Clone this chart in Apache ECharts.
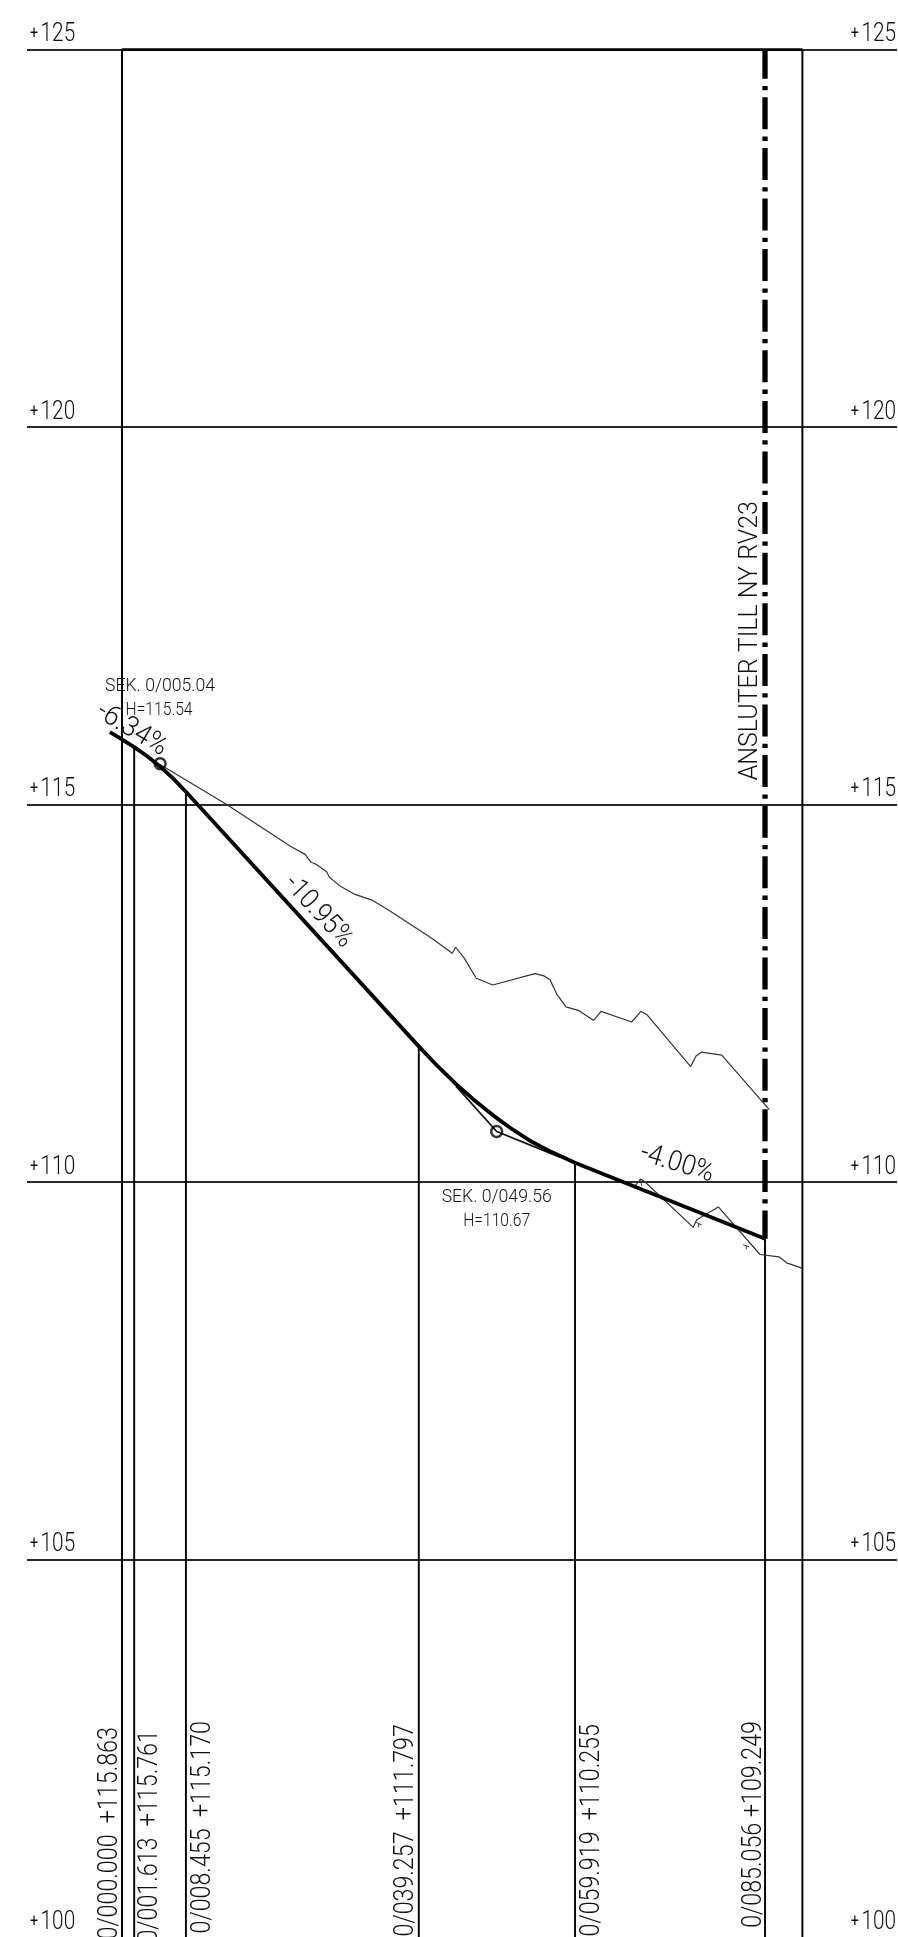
<!DOCTYPE html>
<html><head><meta charset="utf-8">
<style>html,body{margin:0;padding:0;background:#fff;overflow:hidden}#c{width:898px;height:1937px}</style>
<script src="https://cdn.jsdelivr.net/npm/echarts@6/dist/echarts.min.js"></script>
</head><body><div id="c"></div>
<script>
const stationS=[0,1.613,8.455,39.257,59.919,85.056];
const stationH=[115.863,115.761,115.17,111.797,110.255,109.249];
const stationTexts=['0/000.000  +115.863','0/001.613  +115.761','0/008.455  +115.170','0/039.257  +111.797','0/059.919  +110.255','0/085.056 +109.249'];
const stationTextS=[-1.6,3.75,10.7,37.6,62.15,83.65];
const stationTextH=[102.78,102.74,102.86,102.82,102.82,102.86];
const roadS=[-1.6,0,1.613,3.3,5.03,6.75,8.455,39.257,41.76,44.26,46.76,49.26,51.76,54.26,56.76,59.919,85.056];
const roadH=[115.96,115.863,115.761,115.643,115.505,115.347,115.17,111.797,111.534,111.29,111.07,110.87,110.69,110.53,110.4,110.255,109.249];
const groundS=[5.03,13.85,22.22,24.21,24.96,25.66,27.08,27.42,28.84,30.82,33.16,35.45,40.97,43.69,44.14,45.24,46.87,49.03,54.63,55.82,56.61,57.5,58.73,60.45,62.39,63.36,67.42,68.65,69.4,75.22,75.93,76.63,79.33,85.62];
const groundH=[115.53,115,114.45,114.34,114.24,114.21,114.11,114.04,113.92,113.81,113.73,113.59,113.23,113.03,113.11,112.97,112.7,112.61,112.76,112.73,112.68,112.49,112.32,112.27,112.14,112.26,112.12,112.26,112.22,111.53,111.67,111.72,111.68,110.96];
const lowerS=[67.86,68.61,69.18,75.57,76.02,78.88,84.39,86.9,87.92,89.9];
const lowerH=[109.95,110.04,110,109.4,109.5,109.67,109.04,109.01,108.93,108.86];
const markS=[68.78,68.52,null,75.93,76.68,null,76.28,76.28,null,82.18,82.98,null,82.58,82.58];
const markH=[109.95,110.03,null,109.47,109.43,null,109.45,109.4,null,109.17,109.14,null,109.16,109.11];
const tangentS=[44.18,49.56,57.94];
const tangentH=[111.27,110.67,110.33];
const breakS=[5.04,49.56];
const breakH=[115.54,110.67];
const noteTexts=['SEK. 0/005.04','H=115.54','-6.34%','-10.95%','-4.00%','SEK. 0/049.56','H=110.67','ANSLUTER TILL NY RV23'];
const noteS=[5.03,4.9,1.28,25.93,73.41,49.56,49.56,83.1];
const noteH=[116.56,116.25,115.99,113.58,110.24,109.8,109.48,117.17];
const yTicks=[100,105,110,115,120,125];
const yLabelS=[-12.17,102.38];
const borderS=[0,90];
const topLevel=125, bottomLevel=100;

const FONT="Roboto,'Liberation Sans',sans-serif";
const WEIGHT='300';
const noteSize=[18,18,28,28,28,18,18,26];
const noteAngle=[0,0,-31,-47,-17,0,0,90];
const noteScale=[.98,.87,.95,.9,.92,.98,.87,.96];
const TEXT='#111';

function vline(s,from,to,w,extra){
  return {type:'line',data:[[s,from],[s,to]],showSymbol:false,symbol:'none',clip:false,silent:true,
    lineStyle:Object.assign({color:'#000',width:w},extra||{}),z:3};
}
const series=[];
borderS.forEach(s=>series.push(vline(s,topLevel,bottomLevel,2)));
stationS.forEach((s,i)=>series.push(vline(s,stationH[i],bottomLevel,1.9)));
series.push({type:'line',data:borderS.map(s=>[s,topLevel]),symbol:'none',clip:false,lineStyle:{color:'#000',width:2.6},z:3});
series.push(vline(stationS[5],topLevel,stationH[5],5.3,{type:[32,7.3,4.3,7],dashOffset:2.9,cap:'butt'}));
series.push({type:'line',data:groundS.map((s,i)=>[s,groundH[i]]),symbol:'none',clip:false,lineStyle:{color:'#333',width:1.2},z:4});
series.push({type:'line',data:lowerS.map((s,i)=>[s,lowerH[i]]),symbol:'none',clip:false,lineStyle:{color:'#333',width:1.2},z:4});
series.push({type:'line',data:markS.map((s,i)=>s===null?[null,null]:[s,markH[i]]),connectNulls:false,symbol:'none',clip:false,lineStyle:{color:'#333',width:1},z:4});
series.push({type:'line',data:tangentS.map((s,i)=>[s,tangentH[i]]),symbol:'none',clip:false,lineStyle:{color:'#111',width:1.7},z:4});
series.push({type:'line',data:roadS.map((s,i)=>[s,roadH[i]]),symbol:'none',clip:false,lineStyle:{color:'#000',width:3.8,join:'round'},z:5});
series.push({type:'scatter',data:breakS.map((s,i)=>[s,breakH[i]]),symbol:'circle',symbolSize:11,clip:false,
  itemStyle:{color:'rgba(255,255,255,0)',borderColor:'#000',borderWidth:2.4},z:6});
function textItem(api,text,rot,size,sx){
  const p=api.coord([api.value(0),api.value(1)]);
  return {type:'text',x:p[0],y:p[1],rotation:rot,scaleX:sx,silent:true,
    style:{text:text,x:0,y:0,fill:TEXT,font:'normal '+WEIGHT+' '+size+'px '+FONT,align:'center',verticalAlign:'middle'}};
}
series.push({type:'custom',coordinateSystem:'cartesian2d',clip:false,z:7,silent:true,
  data:noteS.map((s,i)=>[s,noteH[i],i]),encode:{x:0,y:1},
  renderItem:(p,api)=>{const i=api.value(2);return textItem(api,noteTexts[i],noteAngle[i]*Math.PI/180,noteSize[i],noteScale[i]);}});
series.push({type:'custom',coordinateSystem:'cartesian2d',clip:false,z:7,silent:true,
  data:stationTextS.map((s,i)=>[s,stationTextH[i],i]),encode:{x:0,y:1},
  renderItem:(p,api)=>{const i=api.value(2);const el=textItem(api,stationTexts[i],Math.PI/2,28,.83);el.style.align='right';return el;}});
// elevation labels on both sides, drawn at each tick of the y axis
yLabelS.forEach((sideS,k)=>{
  series.push({type:'custom',coordinateSystem:'cartesian2d',clip:false,z:7,silent:true,
    data:yTicks.map(t=>[sideS,t]),encode:{x:0,y:1},
    renderItem:(p,api)=>{
      const el=textItem(api,'{p|+}{n|'+api.value(1)+'}',0,26,.8);
      el.y-=2;
      el.style.align=k===0?'left':'right';
      el.style.verticalAlign='bottom';
      el.style.rich={p:{font:'normal 400 18px '+FONT,fill:TEXT,padding:[0,3,0,0]},n:{font:'normal '+WEIGHT+' 26px '+FONT,fill:TEXT}};
      return el;
    }});
});
const chart=echarts.init(document.getElementById('c'),null,{width:898,height:1937});
chart.setOption({animation:false,backgroundColor:'#fff',
  grid:{left:27,top:49.6,width:870,height:1890,containLabel:false},
  xAxis:{type:'value',min:-12.566,max:102.513,show:false},
  yAxis:{type:'value',min:bottomLevel,max:topLevel,interval:5,
    axisLine:{show:false},axisTick:{show:false},axisLabel:{show:false},
    splitLine:{show:true,showMinLine:false,lineStyle:{color:'#2a2a2a',width:2}}},
  series:series});
</script></body></html>
